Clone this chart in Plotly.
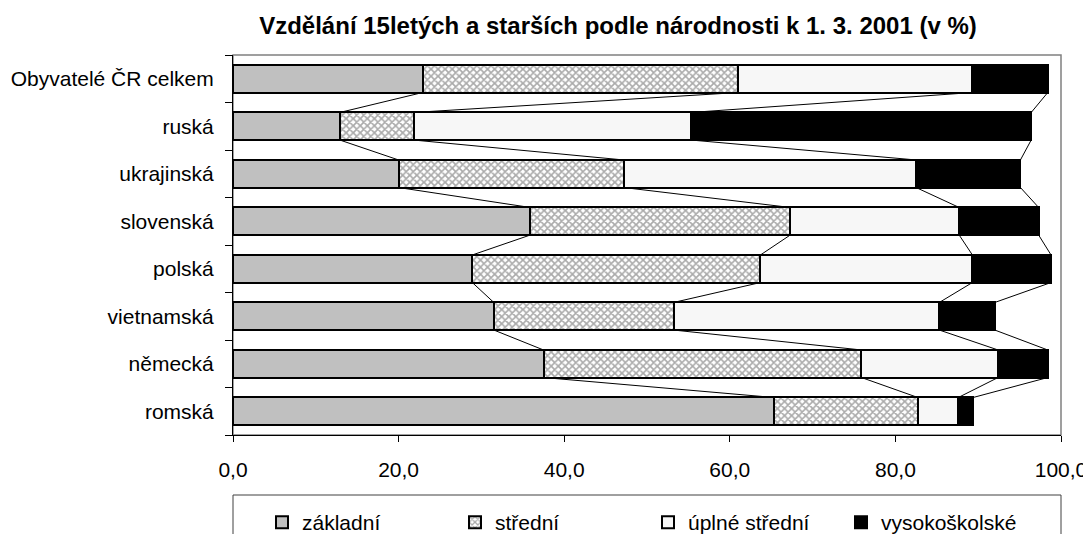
import plotly.graph_objects as go
import numpy as np

categories = ["Obyvatelé ČR celkem", "ruská", "ukrajinská", "slovenská",
              "polská", "vietnamská", "německá", "romská"]
series_names = ["základní", "střední", "úplné střední", "vysokoškolské"]
zakladni = [22.9, 12.9, 20.0, 35.9, 28.9, 31.5, 37.5, 65.3]
stredni = [38.1, 8.9, 27.2, 31.4, 34.8, 21.7, 38.4, 17.4]
uplne = [28.3, 33.5, 35.3, 20.4, 25.6, 32.1, 16.5, 4.9]
vysoko = [9.1, 41.1, 12.6, 9.6, 9.5, 6.7, 6.0, 1.8]
x_ticks = [0, 20, 40, 60, 80, 100]

values = [zakladni, stredni, uplne, vysoko]
n = len(categories)
ypos = list(range(n - 1, -1, -1))  # top category highest
bar_w = 0.58

styles = [
    dict(color="#C0C0C0"),
    dict(color="white", pattern=dict(shape="x", size=5, solidity=0.55,
                                      fgcolor="#555555", bgcolor="white",
                                      fillmode="overlay")),
    dict(color="#F7F7F7"),
    dict(color="black"),
]

FONT = "Liberation Sans, Arial, sans-serif"

fig = go.Figure()
for name, vals, st in zip(series_names, values, styles):
    fig.add_trace(go.Bar(
        y=ypos, x=vals, name=name, orientation="h", width=bar_w,
        marker=dict(line=dict(color="black", width=2), **st),
        hoverinfo="x+name",
    ))

# series lines connecting segment ends between neighbouring bars
cum = np.cumsum(np.array(values), axis=0)  # shape 4 x n
lx, ly = [], []
for i in range(n - 1):
    for k in range(4):
        lx += [cum[k, i], cum[k, i + 1], None]
        ly += [ypos[i] - bar_w / 2, ypos[i + 1] + bar_w / 2, None]
fig.add_trace(go.Scatter(x=lx, y=ly, mode="lines", showlegend=False,
                         line=dict(color="black", width=1), hoverinfo="skip"))

PH = 380  # plot height in px
fig.update_layout(
    width=1091, height=534,
    barmode="stack",
    paper_bgcolor="white", plot_bgcolor="white",
    margin=dict(l=225, r=38, t=47, b=107, autoexpand=False),
    font=dict(family=FONT, color="black", size=21),
    separators=", ",
    title=dict(text="<b>Vzdělání 15letých a starších podle národnosti k 1. 3. 2001 (v %)</b>",
               x=610 / 1091, xanchor="center", xref="container",
               y=1 - 18 / 534, yanchor="middle", yref="container",
               font=dict(size=24, family=FONT)),
    xaxis=dict(range=[0, 100], tickvals=x_ticks, tickformat=".1f",
               ticks="outside", ticklen=6, tickcolor="black",
               showline=True, linecolor="black", linewidth=1,
               showgrid=False, zeroline=False, automargin=False,
               ticklabelstandoff=10,
               tickfont=dict(size=21)),
    yaxis=dict(range=[-0.5, n - 0.5], tickvals=ypos, ticktext=categories,
               ticks="", showline=True, linecolor="black", linewidth=1,
               showgrid=False, zeroline=False, automargin=False,
               ticklabelstandoff=14,
               minor=dict(ticks="outside", tick0=-0.5, dtick=1, ticklen=7,
                          tickcolor="black", showgrid=False),
               tickfont=dict(size=21)),
    legend=dict(orientation="h", x=(262 - 233) / 828, xanchor="left",
                y=-67 / PH, yanchor="top",
                entrywidth=148, entrywidthmode="pixels",
                font=dict(size=21), bgcolor="rgba(0,0,0,0)",
                borderwidth=0, traceorder="normal"),
    shapes=[
        dict(type="rect", xref="paper", yref="paper", x0=0, x1=1, y0=0, y1=1,
             line=dict(color="#808080", width=1.5), layer="below"),
        dict(type="rect", xref="paper", yref="paper", x0=0, x1=1,
             y0=-60 / PH, y1=-140 / PH,
             line=dict(color="#404040", width=1)),
    ],
)

fig.write_html("out.html")
